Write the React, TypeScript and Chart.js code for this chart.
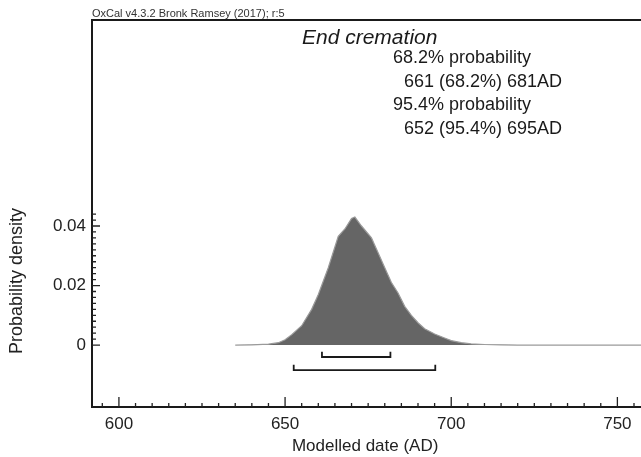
import React, { useEffect, useRef } from 'react';
import { Chart, registerables } from 'chart.js';

Chart.register(...registerables);

// Posterior density of "End cremation" (years AD, probability density)
const years = [635, 640, 645, 648, 650, 652, 655, 658, 660, 663, 666, 668, 670, 671, 673, 676, 678, 680, 682, 684, 686, 688, 690, 692, 695, 698, 700, 703, 706, 710, 715, 720, 770];
const density = [0, 0.0001, 0.0003, 0.0008, 0.0018, 0.0035, 0.0065, 0.012, 0.017, 0.026, 0.0365, 0.039, 0.0425, 0.043, 0.040, 0.036, 0.031, 0.026, 0.021, 0.0175, 0.013, 0.010, 0.0075, 0.0055, 0.0037, 0.0024, 0.0015, 0.0008, 0.0004, 0.0002, 0.0001, 0, 0];

// Highest posterior density ranges (drawn brackets)
const range68 = [661.1, 681.7];
const range95 = [652.6, 695.2];
const bracketLevel68 = -0.004;
const bracketLevel95 = -0.0084;
const bracketCap = 0.0018;

// Axes
const xMin = 591.9;
const xMax = 756.3;
const yMin = -0.0208;
const yMax = 0.1092;
const xTickValues = [600, 650, 700, 750];
const xTickLabels = ['600', '650', '700', '750'];
const xMinorStep = 5;
const yTickValues = [0, 0.02, 0.04];
const yTickLabels = ['0', '0.02', '0.04'];
const yMinorStep = 0.002;
const yMinorTop = 0.044;

const header = 'OxCal v4.3.2 Bronk Ramsey (2017); r:5';
const title = 'End cremation';
const summaryLines = ['68.2% probability', '661 (68.2%) 681AD', '95.4% probability', '652 (95.4%) 695AD'];
const xTitle = 'Modelled date (AD)';
const yTitle = 'Probability density';

const FONT = '"Liberation Sans", Arial, Helvetica, sans-serif';

function bracket(r: number[], lvl: number) {
  return [
    { x: r[0], y: lvl + bracketCap },
    { x: r[0], y: lvl },
    { x: r[1], y: lvl },
    { x: r[1], y: lvl + bracketCap },
  ];
}

const decorPlugin = {
  id: 'oxcalDecor',
  afterDraw(chart: any) {
    const { ctx, chartArea } = chart;
    const xs = chart.scales.x;
    const ys = chart.scales.y;
    const w = chart.width;
    ctx.save();
    // frame
    ctx.strokeStyle = '#1a1a1a';
    ctx.lineWidth = 2;
    ctx.beginPath();
    ctx.moveTo(w, chartArea.top);
    ctx.lineTo(chartArea.left, chartArea.top);
    ctx.lineTo(chartArea.left, chartArea.bottom);
    ctx.lineTo(w, chartArea.bottom);
    ctx.stroke();

    // x ticks (inward)
    ctx.lineWidth = 1.3;
    ctx.strokeStyle = '#222';
    ctx.beginPath();
    for (const t of xs.ticks) {
      const px = xs.getPixelForValue(t.value);
      if (px < chartArea.left + 1 || px > w) continue;
      const major = xTickValues.includes(t.value);
      const len = major ? 10 : 4;
      ctx.moveTo(px, chartArea.bottom);
      ctx.lineTo(px, chartArea.bottom - len);
    }
    ctx.stroke();

    // y ticks (inward)
    ctx.beginPath();
    for (const t of ys.ticks) {
      const py = ys.getPixelForValue(t.value);
      const major = yTickValues.some((v) => Math.abs(v - t.value) < 1e-9);
      const len = major ? 8 : 4;
      ctx.moveTo(chartArea.left, py);
      ctx.lineTo(chartArea.left + len, py);
    }
    ctx.stroke();

    // header
    ctx.fillStyle = '#333';
    ctx.textBaseline = 'alphabetic';
    ctx.textAlign = 'left';
    ctx.font = `11px ${FONT}`;
    ctx.fillText(header, chartArea.left, chartArea.top - 3);

    // title and summary
    ctx.fillStyle = '#1a1a1a';
    ctx.font = `italic 21px ${FONT}`;
    ctx.fillText(title, 302, 44);
    ctx.font = `18px ${FONT}`;
    const xs2 = [393, 404, 393, 404];
    const bs = [63, 86.5, 110, 133.5];
    summaryLines.forEach((s, i) => ctx.fillText(s, xs2[i], bs[i]));

    // y axis title
    ctx.save();
    ctx.translate(17, 281);
    ctx.rotate(-Math.PI / 2);
    ctx.textAlign = 'center';
    ctx.textBaseline = 'middle';
    ctx.font = `18px ${FONT}`;
    ctx.fillStyle = '#222';
    ctx.fillText(yTitle, 0, 0);
    ctx.restore();

    ctx.restore();
  },
};

export default function App() {
  const ref = useRef<HTMLCanvasElement | null>(null);
  useEffect(() => {
    if (!ref.current) return;
    const chart = new Chart(ref.current, {
      type: 'line',
      data: {
        datasets: [
          {
            data: years.map((y, i) => ({ x: y, y: density[i] })),
            borderColor: '#9a9a9a',
            borderWidth: 1.2,
            backgroundColor: '#656565',
            fill: 'origin',
            pointRadius: 0,
            tension: 0,
            clip: false,
          },
          {
            data: bracket(range68, bracketLevel68),
            borderColor: '#1a1a1a',
            borderWidth: 1.8,
            fill: false,
            pointRadius: 0,
            tension: 0,
          },
          {
            data: bracket(range95, bracketLevel95),
            borderColor: '#1a1a1a',
            borderWidth: 1.8,
            fill: false,
            pointRadius: 0,
            tension: 0,
          },
        ],
      },
      options: {
        responsive: false,
        animation: false,
        events: [],
        layout: { padding: { top: 20, left: 0, right: 0, bottom: 0 } },
        plugins: { legend: { display: false }, tooltip: { enabled: false }, title: { display: false } },
        scales: {
          x: {
            type: 'linear',
            min: xMin,
            max: xMax,
            grid: { display: false, drawTicks: false },
            border: { display: false },
            afterBuildTicks: (scale: any) => {
              const t = [];
              for (let v = Math.ceil(xMin / xMinorStep) * xMinorStep; v <= xMax; v += xMinorStep) t.push({ value: v });
              scale.ticks = t;
            },
            afterFit: (scale: any) => {
              scale.height = 50;
            },
            ticks: {
              autoSkip: false,
              maxRotation: 0,
              minRotation: 0,
              padding: 7,
              color: '#222',
              font: { family: FONT, size: 17 },
              callback: (v: any) => {
                const i = xTickValues.indexOf(Number(v));
                return i >= 0 ? xTickLabels[i] : '';
              },
            },
            title: {
              display: true,
              text: xTitle,
              color: '#222',
              font: { family: FONT, size: 17, lineHeight: 1.2 },
              padding: { top: 0, bottom: 0 },
            },
          },
          y: {
            type: 'linear',
            min: yMin,
            max: yMax,
            grid: { display: false, drawTicks: false },
            border: { display: false },
            afterBuildTicks: (scale: any) => {
              const t = [];
              const n = Math.round(yMinorTop / yMinorStep);
              for (let i = 0; i <= n; i++) t.push({ value: Number((i * yMinorStep).toFixed(6)) });
              scale.ticks = t;
            },
            afterFit: (scale: any) => {
              scale.width = 92;
            },
            ticks: {
              autoSkip: false,
              padding: 6,
              color: '#222',
              font: { family: FONT, size: 17 },
              callback: (v: any) => {
                const i = yTickValues.findIndex((y) => Math.abs(y - Number(v)) < 1e-9);
                return i >= 0 ? yTickLabels[i] : '';
              },
            },
          },
        },
      },
      plugins: [decorPlugin],
    });
    return () => chart.destroy();
  }, []);
  return (
    <div style={{ position: 'absolute', left: 0, top: 0, width: 641, height: 457, background: '#fff' }}>
      <canvas ref={ref} width={641} height={457} style={{ display: 'block' }} />
    </div>
  );
}
